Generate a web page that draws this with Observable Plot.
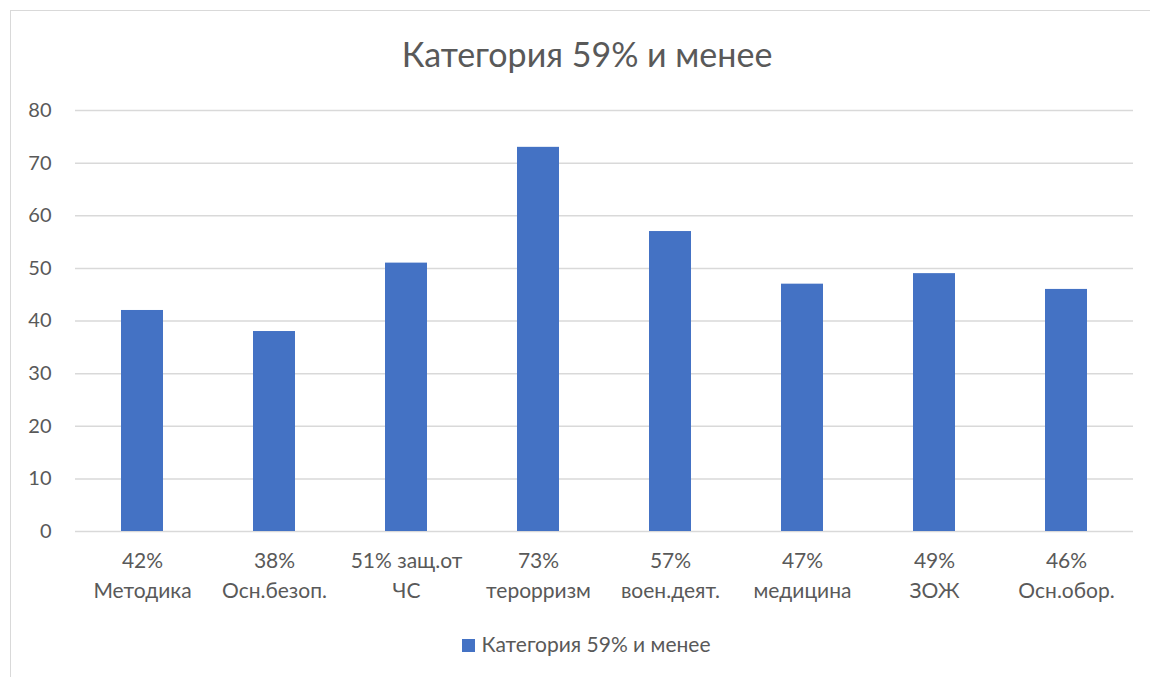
<!DOCTYPE html>
<html>
<head>
<meta charset="utf-8">
<script src="https://cdn.jsdelivr.net/npm/d3@7"></script>
<script src="https://cdn.jsdelivr.net/npm/@observablehq/plot@0.6"></script>
<style>
  body { margin: 0; background: #fff; font-family: Lato, "Open Sans", sans-serif; }
  #wrap { position: relative; width: 1150px; height: 677px; overflow: hidden; background: #fff; }
  #frame { position: absolute; left: 10px; top: 10px; width: 1160px; height: 700px; border: 1.5px solid #d9d9d9; box-sizing: border-box; }
  #title { position: absolute; left: 0; width: 1174px; top: 33px; text-align: center; font-size: 34px; color: #595959; }
  #chart { position: absolute; left: 0; top: 90px; }
  #legend { position: absolute; left: 0; width: 1172px; top: 631px; text-align: center; font-size: 21px; color: #595959; }
  #legend .sw { display: inline-block; width: 13px; height: 13px; background: #4472c4; margin-right: 7px; vertical-align: 0px; }
</style>
</head>
<body>
<div id="wrap">
  <div id="frame"></div>
  <div id="title"></div>
  <div id="chart"></div>
  <div id="legend"></div>
</div>
<script>
const seriesName = "Категория 59% и менее";
const categories = [
  "42%\nМетодика",
  "38%\nОсн.безоп.",
  "51% защ.от\nЧС",
  "73%\nтерорризм",
  "57%\nвоен.деят.",
  "47%\nмедицина",
  "49%\nЗОЖ",
  "46%\nОсн.обор."
];
const values = [42, 38, 51, 73, 57, 47, 49, 46];
const yTicks = [0, 10, 20, 30, 40, 50, 60, 70, 80];

const data = categories.map((c, i) => ({category: c, value: values[i]}));

document.getElementById("title").textContent = seriesName;
document.getElementById("legend").innerHTML = '<span class="sw"></span>' + seriesName;

const chart = Plot.plot({
  width: 1150,
  height: 521,
  marginTop: 20,
  marginBottom: 80,
  marginLeft: 75,
  marginRight: 17,
  style: {fontFamily: "Lato, 'Open Sans', sans-serif", color: "#595959", background: "transparent"},
  x: {domain: categories, paddingInner: 0.68, paddingOuter: 0.34},
  y: {domain: [0, 80]},
  marks: [
    Plot.gridY(yTicks, {stroke: "#d9d9d9", strokeOpacity: 1, strokeWidth: 1.5}),
    Plot.barY(data, {x: "category", y: "value", fill: "#4472c4"}),
    Plot.axisY(yTicks, {tickSize: 0, tickPadding: 24, fontSize: 20, fill: "#595959", label: null}),
    Plot.axisX({tickSize: 0, tickPadding: 15, fontSize: 21, lineHeight: 1.43, fill: "#595959", label: null})
  ]
});
document.getElementById("chart").appendChild(chart);
</script>
</body>
</html>
